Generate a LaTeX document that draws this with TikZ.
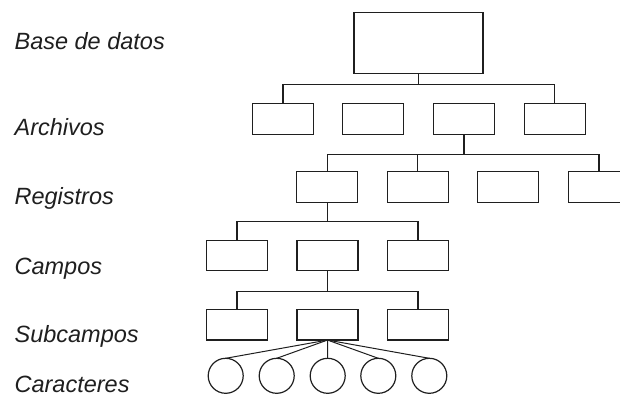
\documentclass[tikz,border=0pt]{standalone}
\usepackage{fontspec}
\setmainfont{Liberation Sans}
\begin{document}
\begin{tikzpicture}[x=1pt,y=-1pt,
  line width=1.2pt, line join=miter,
  ink/.style={draw=black!88},
  top/.style={ink, minimum width=129pt, minimum height=60.5pt, inner sep=0pt, outer sep=0pt},
  rec/.style={ink, minimum width=61pt, minimum height=30.5pt, inner sep=0pt, outer sep=0pt},
  chr/.style={ink, circle, minimum size=35pt, inner sep=0pt, outer sep=0pt},
  lvl/.style={anchor=base west, inner sep=0pt, font=\fontsize{23.5}{27}\selectfont\itshape, text=black!88},
  link/.style={draw=black!88}]
\useasboundingbox (0,0) rectangle (620,396);

% level captions
\node[lvl] (tBase) at (14,49.3) {Base de datos};
\node[lvl] (tArch) at (14,135) {Archivos};
\node[lvl] (tReg)  at (14,204) {Registros};
\node[lvl] (tCamp) at (14,274.3) {Campos};
\node[lvl] (tSub)  at (14,342) {Subcampos};
\node[lvl] (tCar)  at (14,392.5) {Caracteres};

% database
\node[top] (db) at (418.5,43) {};

% files
\node[rec] (a1) at (283,119) {};
\node[rec] (a2) at (373.3,119) {};
\node[rec] (a3) at (464,119) {};
\node[rec] (a4) at (554.7,119) {};

% records (the last one runs past the right edge)
\node[rec] (r1) at (327.2,187) {};
\node[rec] (r2) at (417.8,187) {};
\node[rec] (r3) at (508.3,187) {};
\begin{scope}
  \clip (0,0) rectangle (620,396);
  \node[rec] (r4) at (599,187) {};
\end{scope}

% fields
\node[rec] (c1) at (237,255.5) {};
\node[rec] (c2) at (327.5,255.5) {};
\node[rec] (c3) at (418,255.5) {};

% subfields
\node[rec] (s1) at (237,324.8) {};
\node[rec] (s2) at (327.5,324.8) {};
\node[rec] (s3) at (418,324.8) {};

% characters
\node[chr] (k1) at (225.7,375.8) {};
\node[chr] (k2) at (276.7,375.8) {};
\node[chr] (k3) at (327.7,375.8) {};
\node[chr] (k4) at (378.3,375.8) {};
\node[chr] (k5) at (429.3,375.8) {};

% horizontal bus heights
\coordinate (busA) at (0,84.7);
\coordinate (busR) at (0,154.3);
\coordinate (busC) at (0,221.7);
\coordinate (busS) at (0,291.7);

% database -> files
\draw[link] (db.south) -- (db.south |- busA);
\draw[link] (a1.north) |- (a4.north |- busA) -- (a4.north);

% file -> records
\draw[link] (a3.south) -- (a3.south |- busR);
\draw[link] (r1.north) |- (r4.north |- busR) -- (r4.north);
\draw[link] (r2.north) -- (r2.north |- busR);

% record -> fields
\draw[link] (r1.south) -- (r1.south |- busC);
\draw[link] (c1.north) |- (c3.north |- busC) -- (c3.north);

% field -> subfields
\draw[link] (c2.south) -- (c2.south |- busS);
\draw[link] (s1.north) |- (s3.north |- busS) -- (s3.north);

% subfield -> characters
\foreach \k in {k1,k2,k3,k4,k5}
  \draw[link, line width=1pt] (s2.south) -- (\k.north);
\end{tikzpicture}
\end{document}
